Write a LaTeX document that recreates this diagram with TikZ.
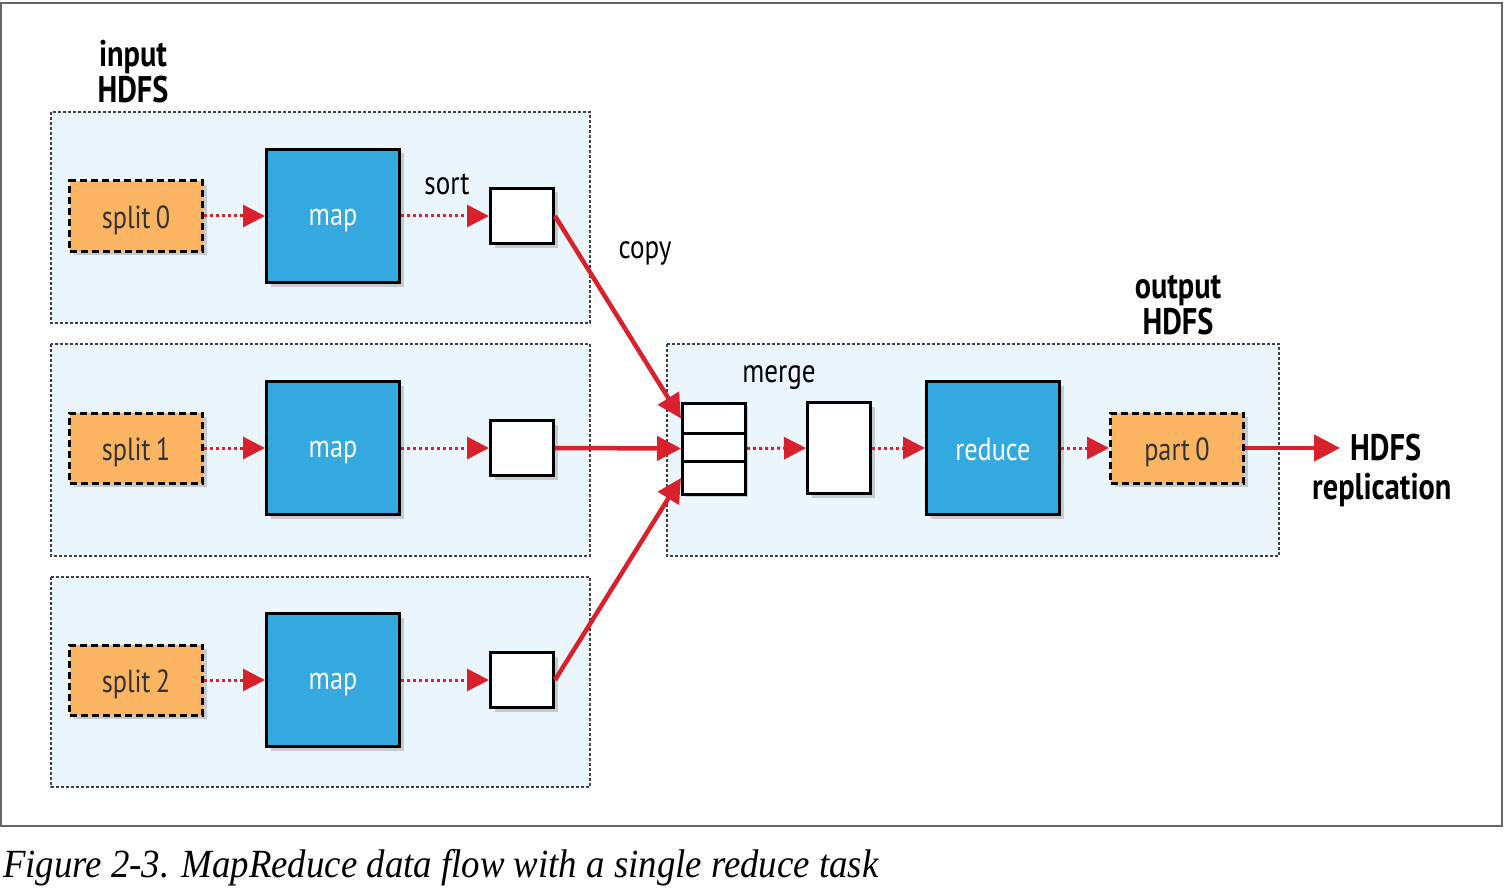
\documentclass[tikz,border=0pt]{standalone}
\usepackage{fontspec}
\setmainfont{PT Sans}[FakeStretch=0.82]
\newfontfamily\capfont{Liberation Serif}[FakeStretch=0.92]
\usetikzlibrary{arrows.meta,shadows,positioning}
\definecolor{hdfsbg}{HTML}{EAF6FC}
\definecolor{splitor}{HTML}{FBB462}
\definecolor{mapblue}{HTML}{33A9DF}
\definecolor{flowred}{HTML}{D9212E}
\tikzset{
  shade3/.style={drop shadow={opacity=0.35,shadow xshift=4pt,shadow yshift=-4pt}},
  hdfsbox/.style={draw=black!75,fill=hdfsbg,line width=1.3pt,dash pattern=on 3pt off 2pt},
  splitbox/.style={draw=black,fill=splitor,line width=3pt,dash pattern=on 7pt off 4pt,
    minimum width=133pt,minimum height=70pt,inner sep=0pt,shade3,text depth=0pt,
    font=\fontsize{32}{34}\selectfont,text=black!80},
  taskbox/.style={draw=black,fill=mapblue,line width=3pt,minimum width=133pt,
    minimum height=133pt,inner sep=0pt,shade3,text=white,text depth=0pt,
    font=\fontsize{32}{34}\selectfont},
  bufbox/.style={draw=black,fill=white,line width=3pt,minimum width=63pt,
    minimum height=55pt,inner sep=0pt,shade3},
  stackbox/.style={draw=black,fill=white,line width=3pt,minimum width=63pt,
    minimum height=30pt,inner sep=0pt},
  dotarrow/.style={draw=flowred,line width=3pt,dash pattern=on 3pt off 3pt,
    -{Triangle[length=22pt,width=22pt,fill=flowred,sep=0pt]}},
  copyarrow/.style={draw=flowred,line width=4.5pt,
    -{Triangle[length=24pt,width=24pt,fill=flowred]}},
  lbl/.style={font=\fontsize{33}{35}\selectfont,inner sep=0pt},
  blbl/.style={font=\fontsize{37}{38}\selectfont\bfseries,inner sep=0pt,align=center}
}
\begin{document}
\begin{tikzpicture}[x=1pt,y=-1pt]
\useasboundingbox (0,0) rectangle (1504,896);
\draw[black!60,line width=1.3pt] (1,3) rectangle (1502,826);

% HDFS areas
\draw[hdfsbox] (51,112) rectangle (590,323);
\draw[hdfsbox] (51,344) rectangle (590,556);
\draw[hdfsbox] (51,577) rectangle (590,787);
\draw[hdfsbox] (667,344) rectangle (1279,556);

\node[blbl] (inlbl) at (133,72) {input\\[-2pt]HDFS};
\node[blbl] (outlbl) at (1178,305) {output\\[-2pt]HDFS};

% map side
\foreach \i/\y in {0/216,1/448,2/680}{
  \node[splitbox] (split\i) at (136,\y) {\raisebox{-2pt}{split\,\i}};
  \node[taskbox] (map\i) at (333,\y) {\raisebox{-3pt}{map}};
  \node[bufbox] (buf\i) at (522,\y) {};
  \draw[dotarrow] (split\i.east) -- (map\i.west);
  \draw[dotarrow] (map\i.east) -- (buf\i.west);
}
\node[lbl] (sortlbl) at (447,184) {sort};
\node[lbl] (copylbl) at (645,253) {copy};

% reduce side: three stacked spill segments
\path[drop shadow={opacity=0.35,shadow xshift=4pt,shadow yshift=-4pt},fill=white] (681,402) rectangle (744,493);
\node[stackbox,anchor=north west] (st1) at (681,402) {};
\node[stackbox,anchor=north west] (st2) at (681,432) {};
\node[stackbox,anchor=north west,minimum height=33pt] (st3) at (681,460) {};
\node[lbl] (mergelbl) at (779,378) {merge};
\node[bufbox,minimum height=91pt] (mbuf) at (839,448) {};
\node[taskbox] (reduce) at (993,448) {\raisebox{-2pt}{reduce}};
\node[splitbox] (part) at (1177,448) {\raisebox{-2pt}{part\,0}};
\node[blbl,align=left,anchor=west] (hdfsrep) at (1312,470) {\hspace{38pt}HDFS\\[1pt]replication};

\draw[copyarrow] (buf0.east) -- (st1.west);
\draw[copyarrow] (buf1.east) -- (st2.west);
\draw[copyarrow] (buf2.east) -- (st3.west);
\draw[dotarrow] (st2.east) -- (mbuf.west);
\draw[dotarrow] (mbuf.east) -- (reduce.west);
\draw[dotarrow] (reduce.east) -- (part.west);
\coordinate (repend) at (1340,448);
\draw[copyarrow,-{Triangle[length=26pt,width=26pt,fill=flowred]}] (part.east) -- (repend);

\node[anchor=west,inner sep=0pt,font=\capfont\itshape\fontsize{40}{44}\selectfont] (caption) at (3,868) {Figure 2-3. MapReduce data flow with a single reduce task};
\end{tikzpicture}
\end{document}
